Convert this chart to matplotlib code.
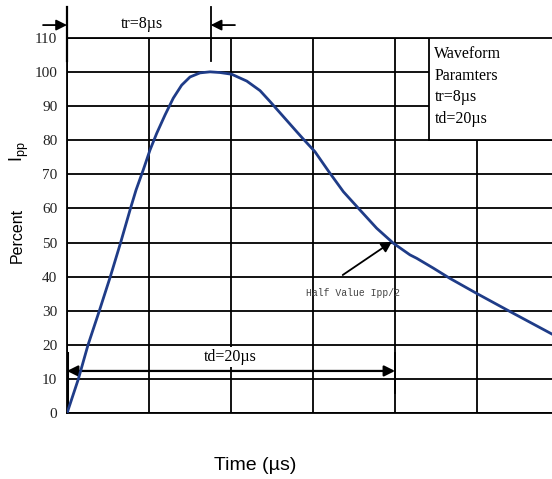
import matplotlib
matplotlib.use('Agg')
import matplotlib.pyplot as plt
from matplotlib.patches import Rectangle

# 8/20us surge waveform
t_us = [0, 0.69, 1.28, 1.97, 2.64, 3.27, 3.87, 4.21, 4.65, 5.06, 5.47, 5.98,
        6.48, 6.99, 7.5, 8.11, 8.72, 9.33, 10.04, 10.96, 11.77, 12.38, 13.19,
        14.0, 14.41, 15.12, 15.93, 16.85, 17.87, 18.88, 19.9, 20.91, 21.32,
        22.34, 23.35, 24.98, 27.01, 29.57]
ipp_pct = [0, 10, 20, 30, 40, 50, 60, 65.4, 71.3, 77.1, 82.0, 87.4,
           92.3, 96.1, 98.5, 99.7, 100, 99.8, 99.3, 97.3, 94.5, 91.3, 86.9,
           82.5, 80.3, 76.6, 71.0, 64.9, 59.5, 54.2, 49.8, 46.4, 45.4,
           42.5, 39.5, 35.1, 29.8, 23.2]

y_ticks = [0, 10, 20, 30, 40, 50, 60, 70, 80, 90, 100, 110]
x_grid = [0, 5, 10, 15, 20, 25]
t_peak = 8.76
td = 20
box_lines = ['Waveform', 'Paramters', 'tr=8\u00b5s', 'td=20\u00b5s']

serif = 'Liberation Serif'
sans = 'Liberation Sans'

fig = plt.figure(figsize=(5.52, 4.79), dpi=100)
W, H = 552, 479
ax = fig.add_axes([67/W, (H-413.3)/H, (W-67)/W, (413.3-37.7)/H])
ax.set_xlim(0, 29.57)
ax.set_ylim(0, 110)

ax.set_yticks(y_ticks)
ax.set_yticklabels([str(v) for v in y_ticks], family=serif, fontsize=11, color='#222222')
ax.set_xticks(x_grid)
ax.set_xticklabels([])
ax.tick_params(length=0, pad=7)
ax.grid(True, color='black', lw=1.3)
ax.set_axisbelow(True)
ax.spines['right'].set_visible(False)
for s in ['left', 'bottom', 'top']:
    ax.spines[s].set_linewidth(1.3)

# waveform parameters box
ax.add_patch(Rectangle((22.07, 80), 10, 30, facecolor='white', edgecolor='black',
                       lw=1.3, zorder=3))
for i, line in enumerate(box_lines):
    ax.text(22.4, 105.1 - i*6.3, line, family=serif, fontsize=11.5, va='center',
            ha='left', zorder=4)

ax.plot(t_us, ipp_pct, color='#1f3c88', lw=2, zorder=5, solid_joinstyle='round')

ak = dict(xycoords='data', textcoords='data', annotation_clip=False)
hd = dict(arrowstyle='-|>', color='black', lw=1.3, mutation_scale=16, shrinkA=0, shrinkB=0)

# tr markers
ax.plot([0, 0], [103.3, 119], color='black', lw=1.6, clip_on=False)
ax.plot([t_peak, t_peak], [103.2, 119], color='black', lw=1.3, clip_on=False)
ax.annotate('', xy=(0, 113.7), xytext=(-1.46, 113.7), arrowprops=hd, **ak)
ax.annotate('', xy=(t_peak, 113.7), xytext=(10.24, 113.7), arrowprops=hd, **ak)
ax.text(4.57, 113.9, 'tr=8\u00b5s', family=serif, fontsize=11.5, ha='center', va='center')

# td markers
ax.plot([0, 0], [0, 17.6], color='black', lw=2.2, zorder=4)
ax.plot([td, td], [5.9, 17.6], color='black', lw=1.3, zorder=4)
ax.annotate('', xy=(td, 12.4), xytext=(0, 12.4),
            arrowprops=dict(arrowstyle='<|-|>', color='black', lw=1.6,
                            mutation_scale=16, shrinkA=0, shrinkB=0), **ak)
ax.text(9.97, 16.6, 'td=20\u00b5s', family=serif, fontsize=11.5, ha='center', va='center',
        bbox=dict(facecolor='white', edgecolor='none', pad=1.5), zorder=6)

# half value
ax.annotate('', xy=(19.82, 50.3), xytext=(16.81, 40.5), arrowprops=hd, **ak)
ax.text(17.42, 35.2, 'Half Value Ipp/2', family='Liberation Mono', fontsize=7,
        color='#444444', ha='center', va='center', zorder=6)

fig.text(17.5/W, 1 - 235/H, 'Percent', family=sans, fontsize=11.5, rotation=90,
         ha='center', va='center')
fig.text(19.5/W, 1 - 152/H, r'$\mathregular{I_{pp}}$', family=sans, fontsize=13,
         rotation=90, ha='center', va='center')
fig.text(255/W, 1 - 465/H, 'Time (\u00b5s)', family=sans, fontsize=14,
         ha='center', va='center')

fig.savefig('out.png', dpi=100)
